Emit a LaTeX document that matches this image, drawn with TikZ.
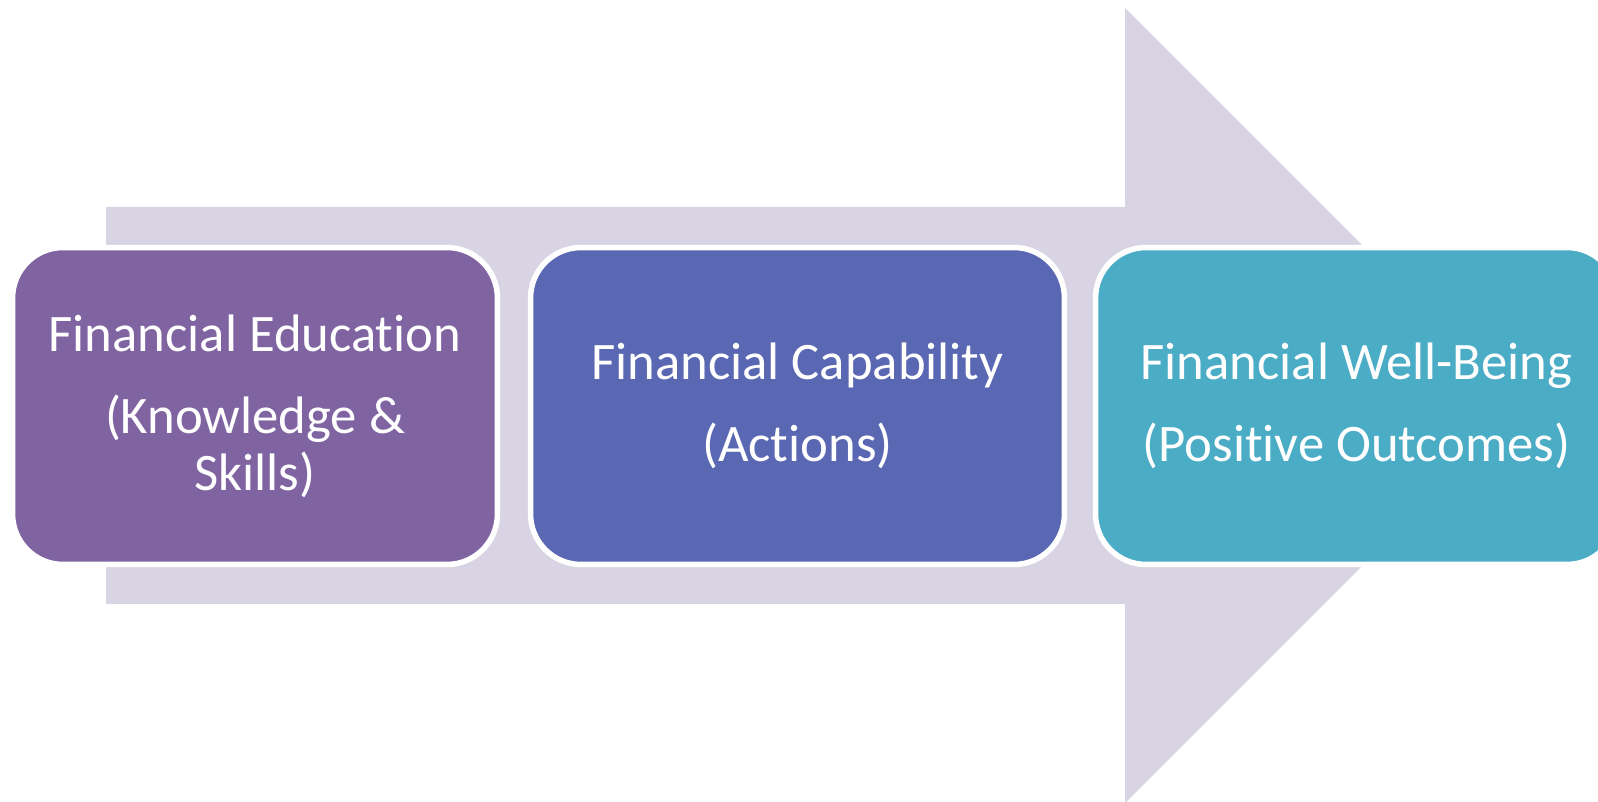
\documentclass[tikz,border=0pt]{standalone}
\usepackage{fontspec}
\setmainfont{Carlito}[Ligatures=NoCommon]
\usepackage{tikz}

\definecolor{arrowgray}{HTML}{D8D4E3}
\definecolor{edupurple}{HTML}{8064A2}
\definecolor{capblue}{HTML}{5A67B2}
\definecolor{wellteal}{HTML}{4BACC6}

\begin{document}
\begin{tikzpicture}[x=0.02cm, y=0.02cm,
    stagebox/.style={rectangle, rounded corners=1.01cm, draw=white, line width=0.11cm,
        minimum height=6.34cm, inner sep=0pt, align=center, text=white,
        font=\fontsize{30}{32.5}\selectfont}]
    \useasboundingbox (0,0) rectangle (1598,801);
    \clip (0,0) rectangle (1598,801);
    % big background arrow
    \fill [arrowgray] (106,594) -- (1125,594) -- (1125,793) -- (1522.5,395.5)
        -- (1125,-2) -- (1125,197) -- (106,197) -- cycle;

    % the three stages
    \node (edu) at (255,395) [stagebox, fill=edupurple, minimum width=9.7cm]
        {Financial Education\\[14.2pt](Knowledge \&\\Skills)};
    \node (cap) at (797.5,395) [stagebox, fill=capblue, minimum width=10.68cm]
        {Financial Capability\\[14.2pt](Actions)};
    \node (well) at (1356.5,395) [stagebox, fill=wellteal, minimum width=10.44cm]
        {Financial Well-Being\\[14.2pt](Positive Outcomes)};
\end{tikzpicture}
\end{document}
